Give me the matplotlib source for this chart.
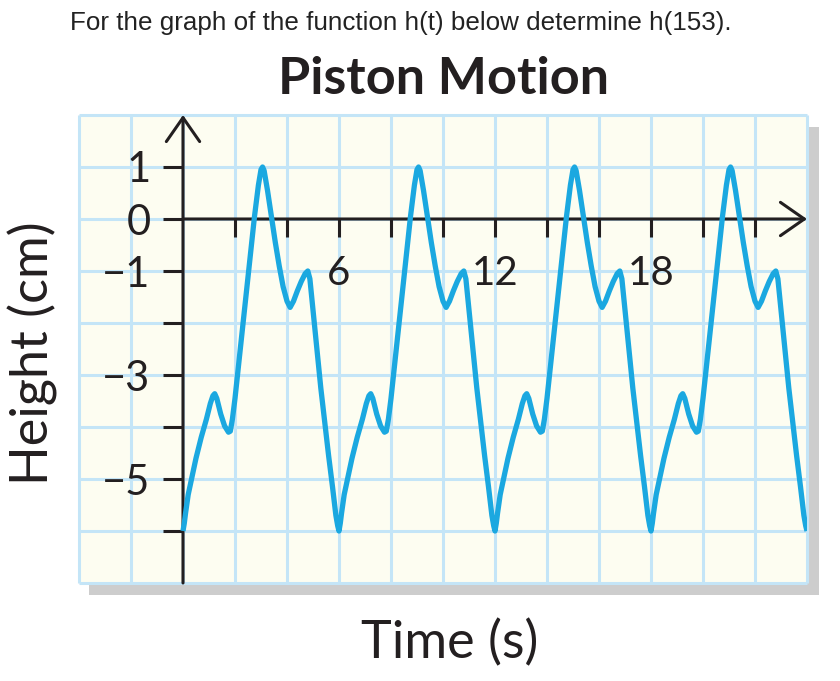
import matplotlib
matplotlib.use("Agg")
import matplotlib.pyplot as plt
import numpy as np
from matplotlib.patches import Rectangle

# ---- data (one period of the repeating curve) ----
period_t = [0.00, 0.05, 0.10, 0.20, 0.35, 0.50, 0.70, 0.90, 1.05, 1.15, 1.22, 1.30,
            1.45, 1.60, 1.75, 1.82, 1.90, 2.00, 2.15, 2.30, 2.45, 2.60, 2.75,
            2.90, 3.00, 3.06, 3.12, 3.25, 3.40, 3.55, 3.70, 3.85, 4.00, 4.12,
            4.25, 4.40, 4.55, 4.70, 4.80, 4.88, 5.00, 5.15, 5.30, 5.45, 5.60,
            5.75, 5.88, 5.95]
period_h = [-6.00, -5.85, -5.65, -5.30, -4.95, -4.60, -4.20, -3.85, -3.55, -3.40, -3.36, -3.45,
            -3.75, -3.98, -4.10, -4.08, -3.85, -3.45, -2.75, -2.05, -1.35, -0.65, 0.05,
            0.65, 0.95, 1.00, 0.93, 0.55, 0.05, -0.45, -0.90, -1.30, -1.58, -1.70,
            -1.58, -1.38, -1.20, -1.05, -1.00, -1.15, -1.75, -2.50, -3.25, -3.90, -4.55,
            -5.15, -5.70, -5.90]
period_length = 6
n_periods = 4
end_t, end_h = 24.0, -6.0

x_major = [6, 12, 18]
x_major_labels = ["6", "12", "18"]
x_minor = [2, 4, 8, 10, 14, 16, 20, 22]
y_major = [1, 0, -1, -3, -5]
y_major_labels = ["1", "0", "\u22121", "\u22123", "\u22125"]
y_minor = [-2, -4, -6]

question = "For the graph of the function h(t) below determine h(153)."
title = "Piston Motion"
xlabel = "Time (s)"
ylabel = "Height (cm)"

# build the full curve by repeating the read period
t_all = []
h_all = []
for k in range(n_periods):
    t_all += [t + k * period_length for t in period_t]
    h_all += period_h
t_all.append(end_t)
h_all.append(end_h)

# ---- styling ----
plt.rcParams["font.family"] = ["Lato", "DejaVu Sans"]
ink = "#231F20"
grid_c = "#C4E5F7"
curve_c = "#1BA8E0"
W, H = 840, 681

def fx(px):
    return px / W

def fy(py):
    return 1 - py / H

fig = plt.figure(figsize=(W / 100, H / 100), dpi=100)
fig.patch.set_facecolor("white")

ax_l, ax_t, ax_r, ax_b = 79, 115, 807, 583
shadow = Rectangle((fx(ax_l + 10), fy(ax_b + 12)), (ax_r - ax_l + 2) / W, (ax_b - ax_t) / H,
                   transform=fig.transFigure, facecolor="#CDCDCD", edgecolor="none", zorder=0)
fig.patches.append(shadow)

ax = fig.add_axes([fx(ax_l), fy(ax_b), (ax_r - ax_l) / W, (ax_b - ax_t) / H])
ax.set_zorder(1)
ax.set_facecolor("#FDFDF1")
ax.set_xlim(-4, 24)
ax.set_ylim(-7, 2)

ax.vlines(np.arange(-4, 25, 2), -7, 2, colors=grid_c, lw=2.2, zorder=1, clip_on=False)
ax.hlines(np.arange(-7, 3, 1), -4, 24, colors=grid_c, lw=2.2, zorder=1, clip_on=False)

for s in ["top", "right"]:
    ax.spines[s].set_visible(False)
ax.spines["left"].set_position(("data", 0))
ax.spines["bottom"].set_position(("data", 0))
ax.spines["left"].set_visible(False)
ax.spines["bottom"].set_visible(False)

ax.set_xticks(x_major, x_major_labels)
ax.set_xticks(x_minor, minor=True)
ax.set_yticks(y_major, y_major_labels)
ax.set_yticks(y_minor, minor=True)
ax.tick_params(axis="x", which="both", direction="out", length=13, width=2.2,
               color=ink, pad=13, labelsize=29, labelcolor=ink)
ax.tick_params(axis="y", which="both", direction="out", length=14.4, width=2.2,
               color=ink, pad=9, labelsize=30, labelcolor=ink)

arrow_style = "->,head_length=0.86,head_width=0.6"
ax.annotate("", xy=(0, 2), xytext=(0, -7),
            arrowprops=dict(arrowstyle=arrow_style, lw=2.2, color=ink,
                            shrinkA=0, shrinkB=0, mutation_scale=20),
            annotation_clip=False, zorder=2.5)
ax.annotate("", xy=(24, 0), xytext=(0, 0),
            arrowprops=dict(arrowstyle=arrow_style, lw=2.2, color=ink,
                            shrinkA=0, shrinkB=0, mutation_scale=20),
            annotation_clip=False, zorder=2.5)

ax.plot(t_all, h_all, color=curve_c, lw=3.8, solid_joinstyle="round",
        solid_capstyle="butt", zorder=3)

fig.text(fx(70), fy(23), question, ha="left", va="center", fontsize=18.7,
         family=["Liberation Sans", "DejaVu Sans"], color="#222222")
fig.text(fx(444), fy(80), title, ha="center", va="center", fontsize=37.5,
         weight="bold", color=ink)
fig.text(fx(450), fy(643), xlabel, ha="center", va="center", fontsize=37.5, color=ink)
fig.text(fx(33), fy(353), ylabel, ha="center", va="center", rotation=90,
         fontsize=37.5, color=ink)

fig.savefig("out.png", dpi=100, facecolor="white")
